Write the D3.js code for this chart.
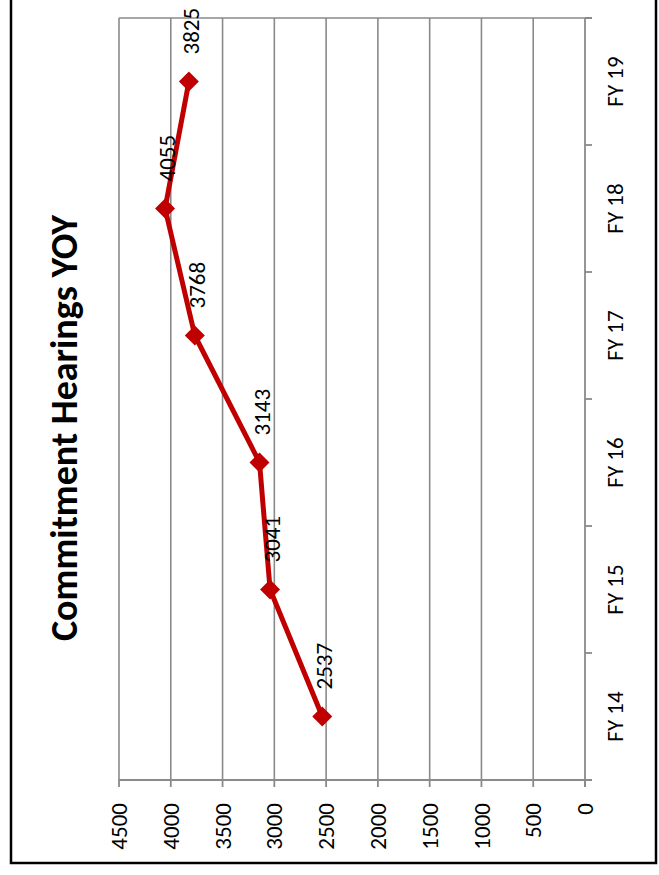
<!DOCTYPE html>
<html>
<head>
<meta charset="utf-8">
<script src="https://cdn.jsdelivr.net/npm/d3@7"></script>
<style>
  body { margin: 0; background: #fff; }
  text { font-family: Calibri, Carlito, Lato, sans-serif; fill: #000; }
</style>
</head>
<body>
<svg id="chart"></svg>
<script>
// chart data (the picture is rotated a quarter turn, values run right-to-left)
var categories = ["FY 14", "FY 15", "FY 16", "FY 17", "FY 18", "FY 19"];
var hearings = [2537, 3041, 3143, 3768, 4055, 3825];
var valueTicks = [0, 500, 1000, 1500, 2000, 2500, 3000, 3500, 4000, 4500];
var chartTitle = "Commitment Hearings YOY";

var width = 659, height = 875;
var svg = d3.select("#chart").attr("width", width).attr("height", height);

// outer frame
svg.append("rect")
    .attr("x", 11).attr("y", -10)
    .attr("width", 645).attr("height", 873)
    .attr("fill", "none")
    .attr("stroke", "#000")
    .attr("stroke-width", 2.5);

var plot = { left: 119, right: 585, top: 18, bottom: 780 };

var x = d3.scaleLinear()
          .domain([0, 4500])
          .range([plot.right, plot.left]);

var y = d3.scaleBand()
          .domain(categories)
          .range([plot.bottom, plot.top]);

var gridColor = "#8a8a8a";
var labelSize = "23px";

// gridlines
svg.append("g")
  .selectAll("line")
  .data(valueTicks.filter(d => d > 0))
  .enter().append("line")
    .attr("x1", d => x(d)).attr("x2", d => x(d))
    .attr("y1", plot.top).attr("y2", plot.bottom)
    .attr("stroke", gridColor)
    .attr("stroke-width", 1.6);

// top border of plot
svg.append("line")
    .attr("x1", plot.left).attr("x2", plot.right + 7)
    .attr("y1", plot.top).attr("y2", plot.top)
    .attr("stroke", gridColor).attr("stroke-width", 1.6);

// value axis (bottom)
var valueAxis = svg.append("g");
valueAxis.append("line")
    .attr("x1", plot.left).attr("x2", plot.right + 7)
    .attr("y1", plot.bottom).attr("y2", plot.bottom)
    .attr("stroke", gridColor).attr("stroke-width", 1.8);
valueAxis.selectAll(".tick")
  .data(valueTicks)
  .enter().append("line")
    .attr("x1", d => x(d)).attr("x2", d => x(d))
    .attr("y1", plot.bottom).attr("y2", plot.bottom + 7)
    .attr("stroke", gridColor).attr("stroke-width", 1.8);
valueAxis.selectAll("text")
  .data(valueTicks)
  .enter().append("text")
    .attr("transform", d => "translate(" + x(d) + "," + 803 + ") rotate(-90)")
    .attr("text-anchor", "end")
    .attr("dy", "0.35em")
    .attr("font-size", labelSize)
    .text(d => d);

// category axis (right)
var catAxis = svg.append("g");
catAxis.append("line")
    .attr("x1", plot.right).attr("x2", plot.right)
    .attr("y1", plot.top).attr("y2", plot.bottom + 7)
    .attr("stroke", gridColor).attr("stroke-width", 1.8);
var bounds = categories.map(c => y(c)).concat([plot.top]);
catAxis.selectAll(".tick")
  .data(bounds)
  .enter().append("line")
    .attr("x1", plot.right).attr("x2", plot.right + 7)
    .attr("y1", d => d).attr("y2", d => d)
    .attr("stroke", gridColor).attr("stroke-width", 1.8);
catAxis.selectAll("text")
  .data(categories)
  .enter().append("text")
    .attr("transform", d => "translate(" + 615 + "," + (y(d) + y.bandwidth() / 2) + ") rotate(-90)")
    .attr("text-anchor", "middle")
    .attr("dy", "0.35em")
    .attr("font-size", labelSize)
    .text(d => d);

// the series
var points = categories.map((c, i) => ({ cat: c, val: hearings[i] }));

var line = d3.line()
    .x(d => x(d.val))
    .y(d => y(d.cat) + y.bandwidth() / 2);

svg.append("path")
    .datum(points)
    .attr("d", line)
    .attr("fill", "none")
    .attr("stroke", "#C00000")
    .attr("stroke-width", 5)
    .attr("stroke-linejoin", "round");

var marker = d3.symbol().type(d3.symbolDiamond2).size(255);
svg.append("g")
  .selectAll("path")
  .data(points)
  .enter().append("path")
    .attr("d", marker)
    .attr("transform", d => "translate(" + x(d.val) + "," + (y(d.cat) + y.bandwidth() / 2) + ")")
    .attr("fill", "#C00000");

// data labels
svg.append("g")
  .selectAll("text")
  .data(points)
  .enter().append("text")
    .attr("transform", d => "translate(" + (x(d.val) + 2) + "," + (y(d.cat) + y.bandwidth() / 2 - 27) + ") rotate(-90)")
    .attr("text-anchor", "start")
    .attr("dy", "0.35em")
    .attr("font-size", labelSize)
    .text(d => d.val);

// title
svg.append("text")
    .attr("transform", "translate(77,428) rotate(-90)")
    .attr("text-anchor", "middle")
    .attr("font-size", "38px")
    .attr("font-weight", "bold")
    .text(chartTitle);
</script>
</body>
</html>
